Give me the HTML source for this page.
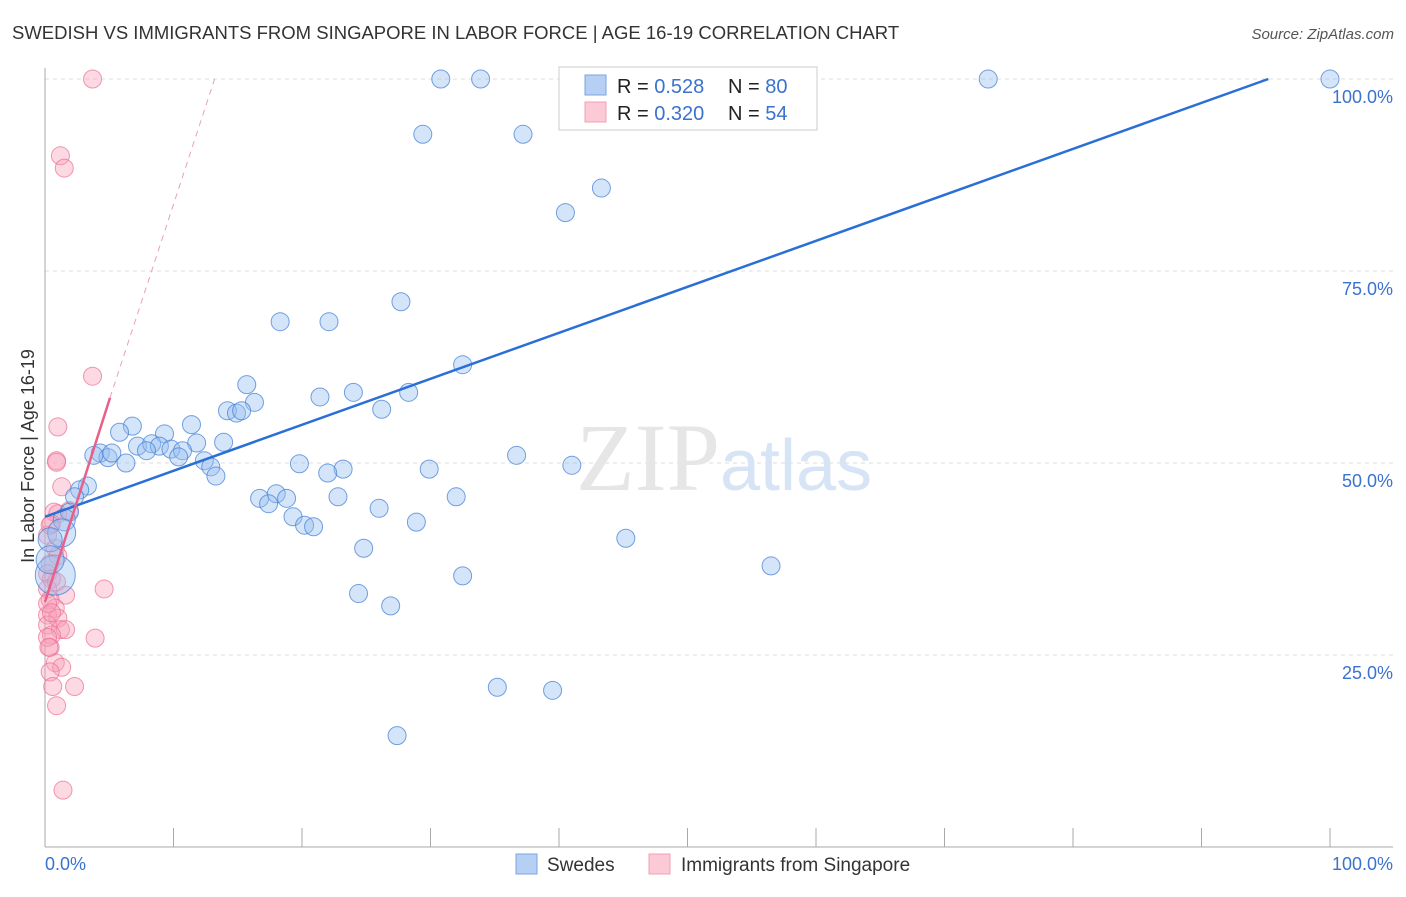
<!DOCTYPE html>
<html><head><meta charset="utf-8"><style>
body{margin:0;background:#fff;font-family:"Liberation Sans",sans-serif}
</style></head><body>
<svg id="chart" width="1406" height="892" viewBox="0 0 1406 892" xmlns="http://www.w3.org/2000/svg">
<text x="12" y="39" font-size="18.5" fill="#333">SWEDISH VS IMMIGRANTS FROM SINGAPORE IN LABOR FORCE | AGE 16-19 CORRELATION CHART</text>
<text x="1394" y="39" font-size="15" fill="#555" font-style="italic" text-anchor="end">Source: ZipAtlas.com</text>
<g id="grid"></g>
<text x="720" y="490" font-size="96" fill="#e6e6e6" text-anchor="end" font-family="Liberation Serif,serif">ZIP</text>
<text x="720" y="490" font-size="72" fill="#d6e4f5">atlas</text>
<line x1="45" y1="68" x2="45" y2="847" stroke="#aaa"/>
<line x1="45" y1="847" x2="1393" y2="847" stroke="#aaa"/>
<g id="pts"></g>
<g id="lines"></g>
<text transform="translate(34,456) rotate(-90)" font-size="18" fill="#333" text-anchor="middle">In Labor Force | Age 16-19</text>
<text x="45" y="870" font-size="18" fill="#3a72d0">0.0%</text>
<text x="1393" y="870" font-size="18" fill="#3a72d0" text-anchor="end">100.0%</text>
<g>
<rect x="559" y="67" width="258" height="63" fill="#fff" stroke="#ccc"/>
<rect x="585" y="75" width="21" height="20" fill="#b6d0f3" stroke="#7ba4e0"/>
<rect x="585" y="102" width="21" height="20" fill="#fcc9d6" stroke="#f0a0b5"/>
<text x="617" y="93" font-size="20" fill="#222">R = <tspan fill="#3a72d0">0.528</tspan><tspan x="728">N = </tspan><tspan fill="#3a72d0">80</tspan></text>
<text x="617" y="120" font-size="20" fill="#222">R = <tspan fill="#3a72d0">0.320</tspan><tspan x="728">N = </tspan><tspan fill="#3a72d0">54</tspan></text>
</g>
<g>
<rect x="516" y="854" width="21" height="20" fill="#b6d0f3" stroke="#7ba4e0"/>
<text x="547" y="871" font-size="19" fill="#333">Swedes</text>
<rect x="649" y="854" width="21" height="20" fill="#fcc9d6" stroke="#f0a0b5"/>
<text x="681" y="871" font-size="19" fill="#333">Immigrants from Singapore</text>
</g>
</svg>
<script>
const yTicks=[25,50,75,100];
const yTickLabels=["25.0%","50.0%","75.0%","100.0%"];
const xTicks=[10,20,30,40,50,60,70,80,90,100];
const blueX=[30.8,33.9,42.8,48.4,58.5,73.4,100,29.4,37.2,43.3,40.5,27.7,18.3,22.1,32.5,15.7,21.4,24,28.3,16.3,14.2,14.9,15.3,26.2,11.4,6.8,5.8,9.3,7.2,8.3,8.9,11.8,13.9,7.9,9.8,10.7,10.4,4.3,4.9,5.2,6.3,3.8,12.4,12.9,13.3,19.8,23.2,22,29.9,36.7,41,3.3,2.7,2.3,16.7,18,18.8,17.4,22.8,32,26,19.3,20.2,20.9,28.9,1.9,1.5,1.3,45.2,24.8,56.5,32.5,24.4,26.9,35.2,39.5,27.4,0.4,0.8,0.4];
const blueY=[100,100,100,100,100,100,100,92.8,92.8,85.8,82.6,71,68.4,68.4,62.8,60.2,58.6,59.2,59.2,57.9,56.8,56.5,56.8,57,55,54.8,54,53.8,52.2,52.5,52.2,52.6,52.7,51.6,51.8,51.6,50.8,51.3,50.7,51.3,50,51.0,50.3,49.5,48.3,49.9,49.2,48.7,49.2,51,49.7,47,46.5,45.6,45.4,46,45.4,44.7,45.6,45.6,44.1,43,41.9,41.7,42.3,43.6,42.6,40.9,40.2,38.9,36.6,35.3,33,31.4,20.8,20.4,14.5,40,35.4,37.4];
const blueR=[9,9,9,9,9,9,9,9,9,9,9,9,9,9,9,9,9,9,9,9,9,9,9,9,9,9,9,9,9,9,9,9,9,9,9,9,9,9,9,9,9,9,9,9,9,9,9,9,9,9,9,9,9,9,9,9,9,9,9,9,9,9,9,9,9,9,11,14,9,9,9,9,9,9,9,9,9,12,20,14];
const pinkX=[3.7,1.2,1.5,3.7,1,0.9,0.9,1.3,0.7,1,1.9,0.5,0.8,1,0.4,0.2,0.5,0.2,0.9,1.6,4.6,0.4,0.8,0.2,1,0.2,1.2,1.6,0.5,3.9,0.4,0.8,1.3,0.4,2.3,0.6,0.9,1.4,0.2,0.4,0.2,0.5,0.2,0.3];
const pinkY=[100,90,88.4,61.3,54.7,50.3,50.1,46.9,43.6,43.4,43.8,42.1,38.9,37.9,36.9,35.6,34.9,33.6,34.5,32.8,33.6,32.2,31.1,30.2,29.8,28.9,28.3,28.3,27.6,27.2,26,24,23.4,22.8,20.9,20.9,18.4,7.4,40.6,41.9,31.7,30.5,27.3,26.0];
const blueLine=[0,43.0,95.2,100];
const pinkLine=[0,31.9,5.06,58.5,13.2,100];
const X=v=>45+v*12.85, Y=v=>847-v*7.68;
const NS="http://www.w3.org/2000/svg";
const g=document.getElementById('grid'),P=document.getElementById('pts'),L=document.getElementById('lines');
function mk(t,a,p){const e=document.createElementNS(NS,t);for(const k in a)e.setAttribute(k,a[k]);p.appendChild(e);return e;}
yTicks.forEach((t,i)=>{
 const l=mk('line',{x1:45,x2:1393,y1:Y(t),y2:Y(t),stroke:'#ddd','stroke-dasharray':'4,4'},g);
 
 
 const tx=mk('text',{x:1393,y:Y(t)+24,'font-size':18,fill:'#3a72d0','text-anchor':'end'},g);
 tx.textContent=yTickLabels[i];
 
 
});
xTicks.forEach(t=>{
 const l=mk('line',{x1:X(t),x2:X(t),y1:828,y2:847,stroke:'#aaa'},g);
 
 
});
pinkX.forEach((x,i)=>{
 const c=mk('circle',{cx:X(x),cy:Y(pinkY[i]),r:9,fill:'rgba(248,160,185,0.4)',stroke:'rgba(235,110,145,0.7)','stroke-width':1},P);
 
 
});
blueX.forEach((x,i)=>{
 const c=mk('circle',{cx:X(x),cy:Y(blueY[i]),r:blueR[i],fill:'rgba(150,190,240,0.4)',stroke:'rgba(70,130,215,0.75)','stroke-width':1},P);
 
 
});
const bl=mk('line',{x1:X(blueLine[0]),y1:Y(blueLine[1]),x2:X(blueLine[2]),y2:Y(blueLine[3]),stroke:'#2a6fd6','stroke-width':2.5},L);


const pl=mk('line',{x1:X(pinkLine[0]),y1:Y(pinkLine[1]),x2:X(pinkLine[2]),y2:Y(pinkLine[3]),stroke:'#e8608a','stroke-width':2.5},L);


const pd=mk('line',{x1:X(pinkLine[2]),y1:Y(pinkLine[3]),x2:X(pinkLine[4]),y2:Y(pinkLine[5]),stroke:'#eaa0b5','stroke-width':1,'stroke-dasharray':'6,5'},L);


</script>
</body></html>
